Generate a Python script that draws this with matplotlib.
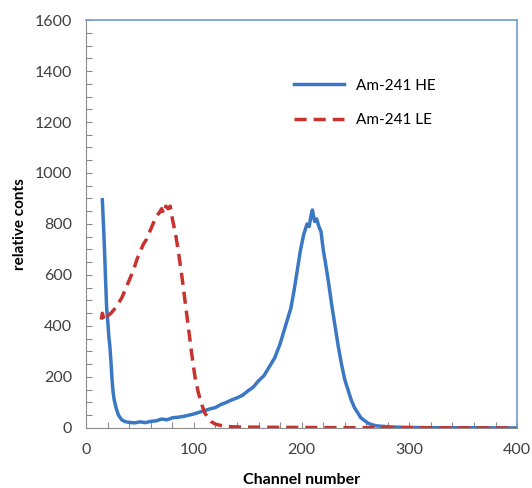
import matplotlib
matplotlib.use("Agg")
import matplotlib.pyplot as plt
from matplotlib.ticker import MultipleLocator

plt.rcParams["font.family"] = ["Lato", "DejaVu Sans"]

# Am-241 HE spectrum
he_channel = [15, 16, 17, 18, 19, 20, 21, 22, 23, 24, 25, 26, 28, 30, 33, 36,
              40, 45, 50, 55, 60, 65, 70, 75, 80, 85, 90, 95, 100, 105, 110,
              115, 120, 125, 130, 135, 140, 145, 150, 155, 160, 165, 170, 175,
              180, 185, 190, 193, 196, 199, 202, 205, 207, 209, 210, 212, 214,
              216, 218, 220, 222, 225, 228, 231, 234, 237, 240, 243, 246, 249,
              252, 255, 258, 262, 266, 270, 280, 290, 300, 320, 350, 400]
he_counts = [895, 800, 700, 580, 470, 420, 360, 320, 260, 190, 140, 110, 75, 50,
             32, 25, 22, 20, 24, 21, 26, 28, 35, 32, 40, 42, 45, 50, 55, 62, 68,
             75, 80, 92, 100, 110, 118, 128, 145, 160, 185, 205, 240, 275, 330,
             400, 470, 540, 620, 700, 760, 800, 790, 840, 855, 810, 820, 790,
             770, 700, 650, 570, 480, 400, 320, 250, 190, 150, 110, 80, 60, 40,
             30, 18, 12, 8, 5, 3, 2, 1, 1, 0]

# Am-241 LE spectrum
le_channel = [14, 15, 17, 20, 23, 26, 30, 33, 35, 38, 41, 44, 47, 50, 53, 56,
              59, 62, 65, 68, 70, 72, 74, 76, 78, 80, 83, 86, 89, 92, 95, 98,
              101, 104, 107, 110, 113, 116, 120, 125, 130, 140, 160, 200, 250,
              300, 400]
le_counts = [425, 450, 420, 440, 450, 465, 490, 510, 530, 560, 590, 620, 660,
             690, 720, 740, 770, 800, 830, 845, 860, 840, 870, 860, 870, 820,
             760, 680, 590, 490, 390, 290, 200, 140, 95, 60, 40, 25, 15, 10, 6,
             4, 3, 2, 1, 1, 0]

fig = plt.figure(figsize=(5.32, 4.88), dpi=100)
ax = fig.add_axes([0.162, 0.123, 0.81, 0.836])

ax.plot(he_channel, he_counts, color="#3a78c4", lw=2.5, label="Am-241 HE")
ax.plot(le_channel, le_counts, color="#c8332f", lw=2.5, dashes=(3.5, 2),
        label="Am-241 LE")

ax.set_xlim(0, 400)
ax.set_ylim(0, 1600)
ax.xaxis.set_major_locator(MultipleLocator(100))
ax.xaxis.set_minor_locator(MultipleLocator(20))
ax.yaxis.set_major_locator(MultipleLocator(200))
ax.yaxis.set_minor_locator(MultipleLocator(50))
ax.tick_params(which="both", direction="in", length=4, width=0.8,
               color="#8c8c8c", labelcolor="#404040", labelsize=11.5)
ax.tick_params(axis="x", which="both", pad=11)
ax.tick_params(axis="y", which="both", pad=10)

for s in ("left", "bottom"):
    ax.spines[s].set_color("#8c8c8c")
for s in ("top", "right"):
    ax.spines[s].set_color("#6f9bd0")
    ax.spines[s].set_linewidth(1.2)

ax.set_xlabel("Channel number", fontsize=11.5, fontweight="bold", labelpad=11)
ax.set_ylabel("relative conts", fontsize=11, fontweight="bold", labelpad=6)

ax.legend(loc="upper left", bbox_to_anchor=(0.45, 0.89), frameon=False,
          fontsize=11, handlelength=3.3, labelspacing=1.35)

fig.savefig("out.png", dpi=100)
